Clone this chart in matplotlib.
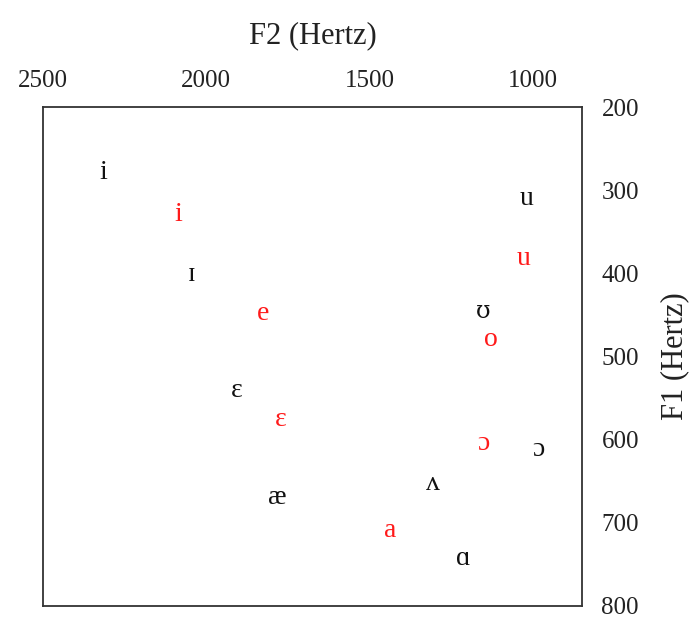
import matplotlib.pyplot as plt

plt.rcParams['font.family'] = ['Liberation Serif', 'DejaVu Serif']

# Formant values (Hz): reference vowels in black, second speaker set in red
black_vowels = ['i', 'ɪ', 'ɛ', 'æ', 'ʌ', 'ɑ', 'ɔ', 'ʊ', 'u']
black_f2 = [2316, 2044, 1906, 1784, 1306, 1214, 985, 1153, 1019]
black_f1 = [279, 401, 541, 670, 653, 743, 612, 446, 310]

red_vowels = ['i', 'e', 'ɛ', 'a', 'ɔ', 'o', 'u']
red_f2 = [2087, 1827, 1771, 1438, 1153, 1129, 1028]
red_f1 = [329, 448, 576, 709, 605, 480, 382]

f2_ticks = [2500, 2000, 1500, 1000]
f1_ticks = [200, 300, 400, 500, 600, 700, 800]

fig = plt.figure(figsize=(6.91, 6.17), dpi=100)
ax = fig.add_axes([43 / 691, 1 - 606 / 617, 539 / 691, 499 / 617])


def vowel_style(v):
    # Liberation Serif draws the upsilon oddly, DejaVu Serif has a clean one (a bit larger)
    if v == 'ʊ':
        return dict(family=['DejaVu Serif'], fontsize=17)
    return dict(family=['Liberation Serif', 'DejaVu Serif'], fontsize=20)


for v, x, y in zip(black_vowels, black_f2, black_f1):
    ax.text(x, y, v, color='#111111', ha='center', va='center', **vowel_style(v))
for v, x, y in zip(red_vowels, red_f2, red_f1):
    ax.text(x, y, v, color='#ff1a1a', ha='center', va='center', **vowel_style(v))

ax.set_xlim(2500, 850)
ax.set_ylim(800, 200)

ax.xaxis.tick_top()
ax.xaxis.set_label_position('top')
ax.yaxis.tick_right()
ax.yaxis.set_label_position('right')
ax.set_xticks(f2_ticks)
ax.set_yticks(f1_ticks)
ax.tick_params(length=0, labelsize=18, colors='#222222')
ax.tick_params(axis='x', pad=11)
ax.tick_params(axis='y', pad=14)

ax.set_xlabel('F2 (Hertz)', fontsize=22, color='#222222', labelpad=19)
ax.set_ylabel('F1 (Hertz)', fontsize=22, color='#222222', labelpad=15)

for s in ax.spines.values():
    s.set_linewidth(1.3)
    s.set_color('#333333')

fig.savefig('out.png', dpi=100)
